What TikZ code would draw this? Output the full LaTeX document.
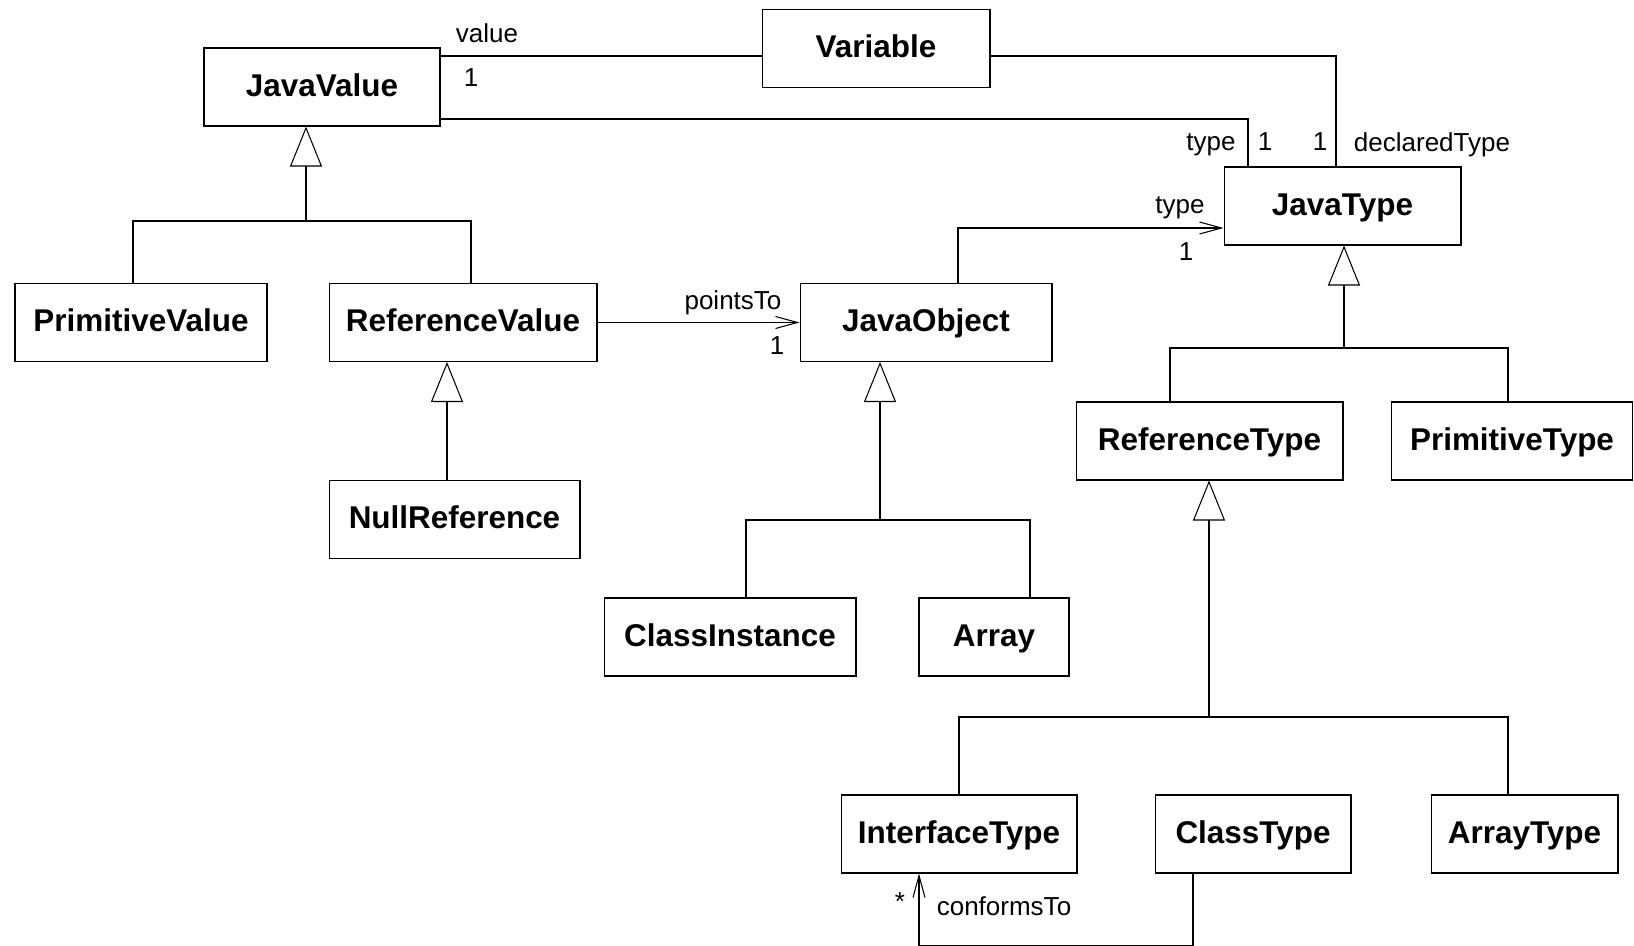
\documentclass[tikz,border=0pt]{standalone}
\usepackage{fontspec}
\setmainfont{Liberation Sans}
\usepackage{tikz}
\usetikzlibrary{arrows.meta,calc,positioning}
\newcommand{\clsfont}{\fontsize{17.9}{20}\selectfont\bfseries}
\newcommand{\rolefont}{\fontsize{14.8}{17}\selectfont}

\begin{document}
\begin{tikzpicture}[x=0.02cm, y=-0.02cm,
  box/.style={rectangle, draw, line width=0.6pt, minimum height=1.56cm, inner sep=0pt,
    text height=12.8pt, text depth=2pt, font=\clsfont},
  link/.style={line width=0.6pt},
  nav/.style={link, -{Straight Barb[length=0.44cm, width=0.24cm, line width=0.6pt]}},
  gen/.style={link, -{Triangle[open, length=0.8cm, width=0.64cm, line width=0.6pt]}},
  role/.style={font=\rolefont, inner sep=0pt}
]
  \useasboundingbox (0,0) rectangle (1634,946);

  % Values (left)
  \node[box, minimum width=4.72cm] (jv) at (322,87) {JavaValue};
  \node[box, minimum width=5.04cm] (primval) at (141,322.5) {PrimitiveValue};
  \node[box, minimum width=5.36cm] (refval) at (463,322.5) {ReferenceValue};
  \node[box, minimum width=5.02cm] (nullref) at (454.5,519.5) {NullReference};

  % Variable and objects (middle)
  \node[box, minimum width=4.56cm] (var) at (876,48.5) {Variable};
  \node[box, minimum width=5.04cm] (jo) at (926,322.5) {JavaObject};
  \node[box, minimum width=5.04cm] (inst) at (730,637) {ClassInstance};
  \node[box, minimum width=3.0cm] (arr) at (994,637) {Array};

  % Types (right)
  \node[box, minimum width=4.74cm] (jt) at (1342.5,206) {JavaType};
  \node[box, minimum width=5.34cm] (reftype) at (1209.5,441) {ReferenceType};
  \node[box, minimum width=4.82cm] (primtype) at (1512,441) {PrimitiveType};
  \node[box, minimum width=4.72cm] (ifacetype) at (959,834) {InterfaceType};
  \node[box, minimum width=3.92cm] (classtype) at (1253,834) {ClassType};
  \node[box, minimum width=3.74cm] (arrtype) at (1524.5,834) {ArrayType};

  % Associations
  \coordinate (valEnd) at ($(var.west)+(0,7.5)$);
  \draw[link] (valEnd) -- (valEnd -| jv.east);
  \draw[link] (valEnd -| var.east) -| ($(jt.north)+(-6.5,0)$);
  \draw[link] ($(jv.east)+(0,32)$) -| ($(jt.north)+(-94.5,0)$);
  \draw[nav] ($(jo.north)+(32,0)$) |- ($(jt.west)+(0,22)$);
  \draw[nav] (refval) -- (jo);
  \coordinate (confTurn) at ($(classtype.south)+(-60,72)$);
  \draw[nav] ($(classtype.south)+(-60,0)$) -- (confTurn) -| ($(ifacetype.south)+(-40,0)$);

  % Role names and multiplicities
  \node[role] (lValue) at (487,33) {value};
  \node[role] (mValue) at (471,78) {1};
  \node[role] (lType) at (1211,145) {type};
  \node[role] (mType) at (1265,142) {1};
  \node[role] (mDecl) at (1320,142) {1};
  \node[role] (lDecl) at (1432,145) {declaredType};
  \node[role] (lObjType) at (1180,208) {type};
  \node[role] (mObjType) at (1186,252) {1};
  \node[role] (lPoints) at (733,303) {pointsTo};
  \node[role] (mPoints) at (777,346) {1};
  \node[role] (mConf) at (900,902) {*};
  \node[role] (lConf) at (1004,906) {conformsTo};

  % Generalizations
  \coordinate (jvJoin) at (306,221);
  \draw[gen] (jvJoin) -- (jvJoin |- jv.south);
  \draw[link] ($(primval.north)+(-8,0)$) |- (jvJoin) -| ($(refval.north)+(8,0)$);

  \coordinate (nrTop) at ($(nullref.north)+(-7.5,0)$);
  \draw[gen] (nrTop) -- (nrTop |- refval.south);

  \coordinate (joJoin) at (880,520);
  \draw[gen] (joJoin) -- (joJoin |- jo.south);
  \draw[link] ($(inst.north)+(16,0)$) |- (joJoin) -| ($(arr.north)+(36,0)$);

  \coordinate (jtJoin) at (1344,348);
  \draw[gen] (jtJoin) -- (jtJoin |- jt.south);
  \draw[link] ($(reftype.north)+(-39.5,0)$) |- (jtJoin) -| ($(primtype.north)+(-4,0)$);

  \coordinate (rtJoin) at (1209,717);
  \draw[gen] (rtJoin) -- (rtJoin |- reftype.south);
  \draw[link] (ifacetype.north) |- (rtJoin) -| ($(arrtype.north)+(-16.5,0)$);
  \draw[link] ($(classtype.north)+(-5,0)$) -- ($(classtype.north)+(-5,0)$ |- rtJoin);
\end{tikzpicture}
\end{document}
